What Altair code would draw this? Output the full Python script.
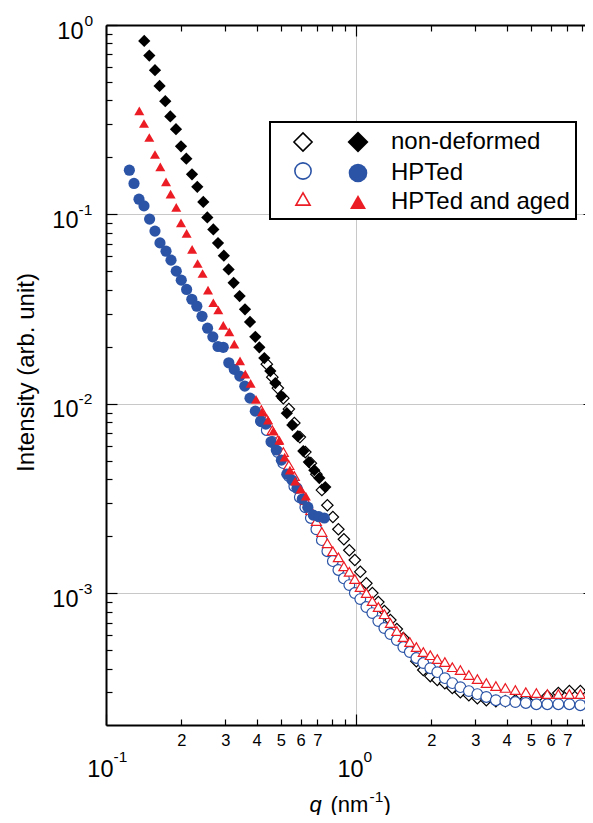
import altair as alt
import pandas as pd

SERIES = ["non-deformed", "HPTed", "HPTed and aged"]
COLORS = ["#000000", "#2b54a6", "#ec1c24"]
SHAPES = ["diamond", "circle", "triangle-up"]

# ---- filled markers (low q) ----
q_nd_filled = [0.1422, 0.1490, 0.1570, 0.1638, 0.1726, 0.1808, 0.1905, 0.1995, 0.2095, 0.2208,
               0.2318, 0.2450, 0.2542, 0.2687, 0.2805, 0.2960, 0.3093, 0.3239, 0.3423, 0.3597,
               0.3767, 0.3956, 0.4105, 0.4298, 0.4542, 0.4756, 0.5027, 0.5288, 0.5562, 0.5850,
               0.6153, 0.6474, 0.6809, 0.7130, 0.7536]
i_nd_filled = [0.824, 0.690, 0.577, 0.477, 0.396, 0.329, 0.282, 0.229, 0.197, 0.163,
               0.140, 0.1165, 0.0964, 0.0833, 0.0706, 0.0606, 0.0513, 0.0436, 0.0371, 0.0316,
               0.0271, 0.0226, 0.0199, 0.01745, 0.01490, 0.01288, 0.01099, 0.00894, 0.00773, 0.00676,
               0.00564, 0.00493, 0.00447, 0.00406, 0.00364]

q_hp_filled = [0.1240, 0.1294, 0.1355, 0.1419, 0.1494, 0.1570, 0.1644, 0.1738, 0.1820, 0.1910,
               0.2000, 0.2101, 0.2204, 0.2308, 0.2421, 0.2548, 0.2675, 0.2805, 0.2945, 0.3098,
               0.3259, 0.3429, 0.3591, 0.3767, 0.3956, 0.4153, 0.4357, 0.4571, 0.4799, 0.5027,
               0.5288, 0.5546, 0.5808, 0.6097, 0.6415, 0.6746, 0.7097, 0.7467]
i_hp_filled = [0.1713, 0.1458, 0.1204, 0.1110, 0.0945, 0.0817, 0.0708, 0.0640, 0.0574, 0.0502,
               0.0450, 0.0402, 0.0357, 0.0328, 0.0290, 0.0251, 0.0226, 0.0201, 0.0199, 0.01648,
               0.01521, 0.01402, 0.01241, 0.01073, 0.00916, 0.00811, 0.00782, 0.00631, 0.00571, 0.00505,
               0.00426, 0.00396, 0.00359, 0.00315, 0.00285, 0.00259, 0.00254, 0.00250]

q_ag_filled = [0.1359, 0.1419, 0.1490, 0.1570, 0.1649, 0.1738, 0.1813, 0.1910, 0.1995, 0.2101,
               0.2210, 0.2325, 0.2434, 0.2559, 0.2687, 0.2813, 0.2945, 0.3113, 0.3259, 0.3436,
               0.3607, 0.3788, 0.3981, 0.4207, 0.4446, 0.4669, 0.4935, 0.5182, 0.5440, 0.5713,
               0.5998, 0.6300]
i_ag_filled = [0.3521, 0.3021, 0.2548, 0.2073, 0.1783, 0.1486, 0.1280, 0.1089, 0.0903, 0.0794,
               0.0654, 0.0551, 0.0488, 0.0399, 0.0342, 0.0313, 0.0260, 0.0240, 0.0207, 0.01688,
               0.01437, 0.01283, 0.01056, 0.00908, 0.00821, 0.00719, 0.00644, 0.00524, 0.00447, 0.00391,
               0.00355, 0.00326]

# ---- open markers (high q) ----
q_open = [0.4180, 0.4397, 0.4626, 0.4866, 0.5120, 0.5386, 0.5666, 0.5961, 0.6271, 0.6597,
          0.6940, 0.7301, 0.7680, 0.8080, 0.8500, 0.8942, 0.9402, 0.989, 1.040, 1.100,
          1.162, 1.228, 1.298, 1.372, 1.456, 1.546, 1.641, 1.743, 1.858, 1.982,
          2.114, 2.266, 2.428, 2.614, 2.827, 3.057, 3.320, 3.625, 3.956, 4.337,
          4.777, 5.263, 5.824, 6.445, 7.133, 7.893, 8.655]
i_nd_open = [0.01622, 0.01385, 0.01212, 0.01073, 0.00939, 0.00792, 0.00668, 0.00557, 0.00487, 0.00426,
             0.00351, 0.00292, 0.00253, 0.00218, 0.00193, 0.00169, 0.00150, 0.00130, 0.00113, 0.001004,
             0.000900, 0.000807, 0.000723, 0.000648, 0.000581, 0.000502, 0.000439, 0.000394, 0.000366, 0.000349,
             0.000336, 0.000317, 0.000301, 0.000290, 0.000280, 0.000273, 0.000270, 0.000270, 0.000273, 0.000277,
             0.000280, 0.000287, 0.000298, 0.000305, 0.000305, 0.000309]
i_hp_open = [0.00811, 0.00727, 0.00629, 0.00557, 0.00487, 0.00416, 0.00368, 0.00322, 0.00285, 0.00250,
             0.00218, 0.00191, 0.00167, 0.00148, 0.00133, 0.00120, 0.001106, 0.001004, 0.000933, 0.000847,
             0.000787, 0.000714, 0.000656, 0.000610, 0.000567, 0.000521, 0.000490, 0.000456, 0.000429, 0.000403,
             0.000384, 0.000357, 0.000336, 0.000320, 0.000305, 0.000294, 0.000284, 0.000273, 0.000270, 0.000267,
             0.000264, 0.000260, 0.000260, 0.000260, 0.000260, 0.000257, 0.000267]
i_ag_open = [0.00928, 0.00831, 0.00727, 0.00644, 0.00557, 0.00475, 0.00416, 0.00359, 0.00311, 0.00275,
             0.00241, 0.00211, 0.00184, 0.00167, 0.00155, 0.00139, 0.00130, 0.00119, 0.00108, 0.001004,
             0.000911, 0.000847, 0.000777, 0.000697, 0.000633, 0.000588, 0.000553, 0.000521, 0.000490, 0.000472,
             0.000450, 0.000434, 0.000408, 0.000394, 0.000371, 0.000353, 0.000336, 0.000324, 0.000317, 0.000309,
             0.000301, 0.000298, 0.000294, 0.000294, 0.000294, 0.000294, 0.000309]

# axis titles (q in italics, unit with superscript)
X_TITLE_Q = "q"
X_TITLE_UNIT = "(nm"
X_TITLE_EXP = "-1"
X_TITLE_CLOSE = ")"
Y_TITLE = "Intensity (arb. unit)"

FONT = "Liberation Sans"
W, H = 488, 700
XMIN, XMAX = 0.1, 8.95
YMIN, YMAX = 2.02e-4, 1.0


def rows(series, qs, vals):
    return [{"series": series, "q": q, "I": v} for q, v in zip(qs, vals)]


open_df = pd.DataFrame(rows(SERIES[0], q_open[1:], i_nd_open)
                       + rows(SERIES[1], q_open, i_hp_open)
                       + rows(SERIES[2], q_open, i_ag_open))
filled_df = pd.DataFrame(rows(SERIES[0], q_nd_filled, i_nd_filled)
                         + rows(SERIES[1], q_hp_filled, i_hp_filled)
                         + rows(SERIES[2], q_ag_filled, i_ag_filled))
anchor_df = pd.DataFrame({"q": [1.0], "I": [0.01]})
# legend-only rows, placed outside the x domain so they are clipped away
legend_df = pd.DataFrame({"series": SERIES, "q": [50.0] * 3, "I": [0.01] * 3})

x_ticks = [round(m * 10.0 ** e, 8) for e in (-1, 0) for m in range(1, 10) if m * 10.0 ** e <= XMAX]
y_ticks = [round(m * 10.0 ** e, 10) for e in (-4, -3, -2, -1) for m in range(1, 10)
           if m * 10.0 ** e >= YMIN] + [1.0]
y_decades = [0.001, 0.01, 0.1, 1.0]

x_labels = {0.1: "10", 1.0: "10"}
for e in (-1, 0):
    for m in range(2, 8):
        x_labels[round(m * 10.0 ** e, 8)] = str(m)
x_exps = {0.1: "-1", 1.0: "0"}
y_exps = {1.0: "0", 0.1: "-1", 0.01: "-2", 0.001: "-3"}


def label_expr(mapping):
    return " : ".join(f"datum.value == {v!r} ? '{t}'" for v, t in mapping.items()) + " : ''"


def cond(test, yes, no):
    return {"condition": {"test": test, "value": yes}, "value": no}


x_major = "datum.value == 0.1 || datum.value == 1"
y_major = "datum.value == 1 || datum.value == 0.1 || datum.value == 0.01 || datum.value == 0.001"
x_tick_size = cond(x_major, 11, 6)
y_tick_size = cond(y_major, 11, 6)

x_scale = alt.Scale(type="log", domain=[XMIN, XMAX], nice=False)
y_scale = alt.Scale(type="log", domain=[YMIN, YMAX], nice=False)

title_common = dict(titleFont=FONT, titleFontWeight="normal", titleColor="black",
                    titleAngle=0, titleBaseline="alphabetic")

x_label_axis = alt.Axis(
    orient="bottom", values=x_ticks, labelExpr=label_expr(x_labels),
    ticks=False, tickSize=0, domain=True, domainColor="black", domainWidth=2,
    grid=True, gridColor="#c8c8c8", gridWidth=1,
    gridOpacity=cond("datum.value == 1", 1, 0),
    labelFont=FONT, labelColor="black", labelBaseline="top",
    labelFontSize=cond(x_major, 23.5, 16.5),
    labelPadding=cond(x_major, 32, 7),
    labelAlign=cond(x_major, "right", "center"),
    labelOffset=cond(x_major, 7, 0),
    labelFlush=False, labelOverlap=False,
    title=X_TITLE_Q, titleFontSize=22, titleFontStyle="italic",
    titleX=209, titleY=86, titleAlign="center", **title_common,
)
y_label_axis = alt.Axis(
    orient="left", values=y_decades, labelExpr="'10'",
    ticks=False, tickSize=0, domain=True, domainColor="black", domainWidth=2,
    grid=True, gridColor="#c8c8c8", gridWidth=1,
    gridOpacity=cond("datum.value == 1", 0, 1),
    labelFont=FONT, labelColor="black", labelFontSize=23.5, labelAlign="right",
    labelBaseline="middle", labelPadding=cond("datum.value == 1", 23, 28), labelOffset=6,
    labelFlush=False, labelOverlap=False,
    title=Y_TITLE, titleFont=FONT, titleFontSize=24, titleFontWeight="normal",
    titleColor="black", titleX=-73, titleY=347, titleAngle=270,
    titleAlign="center", titleBaseline="alphabetic",
)

legend_open = alt.Legend(
    orient="none", legendX=164, legendY=97, title=None, direction="vertical",
    padding=8, rowPadding=4, strokeColor="black", fillColor="white",
    symbolOffset=13, labelOffset=253, symbolFillColor="white", symbolStrokeWidth=1.6,
    labelExpr="'\u00a0'", labelFont=FONT, labelFontSize=24, labelOpacity=0, labelLimit=400,
)
legend_filled = alt.Legend(
    orient="none", legendX=164, legendY=97, title=None, direction="vertical",
    padding=8, rowPadding=4, symbolOffset=68, labelOffset=21,
    labelFont=FONT, labelFontSize=24, labelColor="black", labelLimit=400,
)

shape_scale = alt.Scale(domain=SERIES, range=SHAPES)
color_scale = alt.Scale(domain=SERIES, range=COLORS)

open_layer = alt.Chart(open_df).mark_point(filled=True, fill="white", fillOpacity=1,
                                           strokeWidth=1.2, opacity=1).encode(
    x=alt.X("q:Q", scale=x_scale, axis=x_label_axis),
    y=alt.Y("I:Q", scale=y_scale, axis=y_label_axis),
    shape=alt.Shape("series:N", scale=shape_scale, legend=None),
    stroke=alt.Stroke("series:N", scale=color_scale, legend=None),
    size=alt.Size("series:N", scale=alt.Scale(domain=SERIES, range=[130, 100, 125]), legend=None),
)

filled_layer = alt.Chart(filled_df).mark_point(filled=True, opacity=1, strokeWidth=0).encode(
    x=alt.X("q:Q", scale=x_scale, axis=None),
    y=alt.Y("I:Q", scale=y_scale, axis=None),
    shape=alt.Shape("series:N", scale=shape_scale, legend=None),
    fill=alt.Fill("series:N", scale=color_scale, legend=None),
    size=alt.Size("series:N", scale=alt.Scale(domain=SERIES, range=[150, 100, 150]), legend=None),
)

legend_open_layer = alt.Chart(legend_df).mark_point(filled=True, fill="white", strokeWidth=1.6,
                                                    opacity=1, clip=True).encode(
    x=alt.X("q:Q", scale=x_scale, axis=None),
    y=alt.Y("I:Q", scale=y_scale, axis=None),
    shape=alt.Shape("series:N", scale=shape_scale, legend=legend_open),
    stroke=alt.Stroke("series:N", scale=color_scale, legend=legend_open),
    size=alt.Size("series:N", scale=alt.Scale(domain=SERIES, range=[330, 200, 260]), legend=legend_open),
)
legend_filled_layer = alt.Chart(legend_df).mark_point(filled=True, opacity=1, strokeWidth=0,
                                                      clip=True).encode(
    x=alt.X("q:Q", scale=x_scale, axis=None),
    y=alt.Y("I:Q", scale=y_scale, axis=None),
    shape=alt.Shape("series:N", scale=shape_scale, legend=legend_filled),
    fill=alt.Fill("series:N", scale=color_scale, legend=legend_filled),
    size=alt.Size("series:N", scale=alt.Scale(domain=SERIES, range=[441, 256, 324]), legend=legend_filled),
)

tick_common = dict(labels=False, grid=False, ticks=True, tickColor="black", tickWidth=1.2)

# ticks on the bottom (pointing up) and on the left (pointing right)
t1 = alt.Chart(anchor_df).mark_point(opacity=0).encode(
    x=alt.X("q:Q", scale=x_scale, axis=alt.Axis(
        orient="top", offset=-H, values=x_ticks, domain=False, tickSize=x_tick_size,
        title=X_TITLE_UNIT, titleFontSize=22, titleX=224, titleY=86, titleAlign="left",
        **title_common, **tick_common)),
    y=alt.Y("I:Q", scale=y_scale, axis=alt.Axis(
        orient="right", offset=-W, values=y_ticks, domain=False, tickSize=y_tick_size,
        title=None, **tick_common)),
)
# ticks on the top (pointing down) and on the right (pointing left), with spines
t2 = alt.Chart(anchor_df).mark_point(opacity=0).encode(
    x=alt.X("q:Q", scale=x_scale, axis=alt.Axis(
        orient="bottom", offset=-H, values=x_ticks, domain=True, domainColor="black",
        domainWidth=2, tickSize=x_tick_size,
        title=X_TITLE_EXP, titleFontSize=15.5, titleX=263, titleY=776, titleAlign="left",
        **title_common, **tick_common)),
    y=alt.Y("I:Q", scale=y_scale, axis=alt.Axis(
        orient="left", offset=-W, values=y_ticks, domain=True, domainColor="black",
        domainWidth=2, tickSize=y_tick_size, title=None, **tick_common)),
)
# superscript exponents of the decade labels
t3 = alt.Chart(anchor_df).mark_point(opacity=0).encode(
    x=alt.X("q:Q", scale=x_scale, axis=alt.Axis(
        orient="bottom", values=[0.1, 1.0], labelExpr=label_expr(x_exps),
        ticks=False, tickSize=0, domain=False, grid=False,
        labelFont=FONT, labelFontSize=15.5, labelColor="black", labelAlign="left",
        labelBaseline="top", labelPadding=24, labelOffset=7, labelFlush=False, labelOverlap=False,
        title=X_TITLE_CLOSE, titleFontSize=22, titleX=277, titleY=86, titleAlign="left",
        **title_common)),
    y=alt.Y("I:Q", scale=y_scale, axis=alt.Axis(
        orient="left", values=y_decades, labelExpr=label_expr(y_exps),
        ticks=False, tickSize=0, domain=False, grid=False,
        labelFont=FONT, labelFontSize=15.5, labelColor="black", labelAlign="left",
        labelBaseline="middle", labelPadding=cond("datum.value == 1", 22, 28), labelOffset=-5,
        labelFlush=False, labelOverlap=False, title=None)),
)

chart = alt.layer(open_layer, filled_layer, legend_open_layer, legend_filled_layer, t1, t2, t3).resolve_scale(
    shape="independent", fill="independent", stroke="independent", size="independent"
).resolve_axis(x="independent", y="independent").resolve_legend(
    shape="independent", fill="independent", stroke="independent", size="independent"
).properties(
    width=W, height=H,
    autosize=alt.AutoSizeParams(type="none"),
    padding={"left": 98, "top": 17, "right": -9, "bottom": 90},
    background="white",
).configure_view(strokeOpacity=0).configure_legend(strokeWidth=2)

chart.save("out.html", embed_options={"renderer": "svg", "actions": False})
